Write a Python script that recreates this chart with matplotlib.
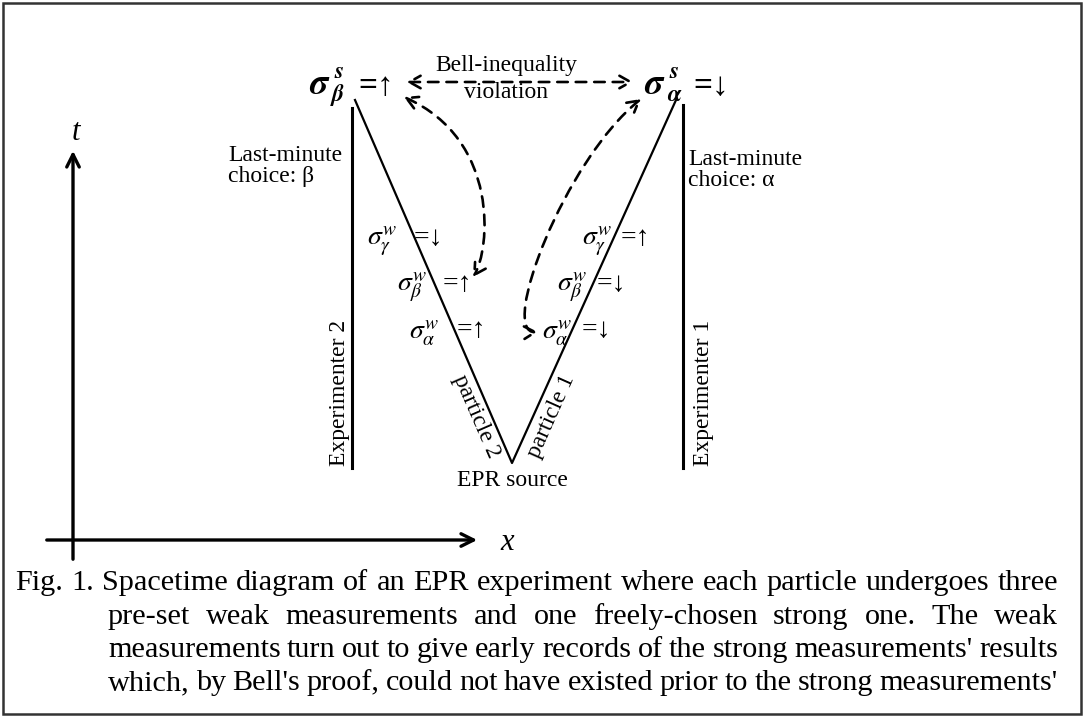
import numpy as np
import matplotlib.pyplot as plt
from matplotlib.patches import FancyArrowPatch, Rectangle
from matplotlib.path import Path

plt.rcParams['font.family'] = ['Liberation Serif', 'DejaVu Serif']
plt.rcParams['mathtext.fontset'] = 'stix'

# diagram content
strong_sub = ['β', 'α']
strong_val = ['=↑', '=↓']
weak_left = [r'$\sigma^w_\gamma$', r'$\sigma^w_\beta$', r'$\sigma^w_\alpha$']
weak_left_val = ['=↓', '=↑', '=↑']
weak_right = [r'$\sigma^w_\gamma$', r'$\sigma^w_\beta$', r'$\sigma^w_\alpha$']
weak_right_val = ['=↑', '=↓', '=↓']
choice_labels = ['Last-minute\nchoice: β', 'Last-minute\nchoice: α']
experimenters = ['Experimenter 2', 'Experimenter 1']
particles = ['particle 2', 'particle 1']
caption = [
    "Fig. 1. Spacetime diagram of an EPR experiment where each particle undergoes three",
    "pre-set weak measurements and one freely-chosen strong one. The weak",
    "measurements turn out to give early records of the strong measurements' results",
    "which, by Bell's proof, could not have existed prior to the strong measurements'",
]

W, H = 1084, 717
fig = plt.figure(figsize=(W / 100, H / 100), dpi=100)
ax = fig.add_axes([0, 0, 1, 1])
ax.set_xlim(0, W)
ax.set_ylim(H, 0)
ax.axis('off')

fs = 17

# frame
ax.add_patch(Rectangle((3, 3), W - 6, H - 6, fill=False, ec='#333333', lw=1.8))

# spacetime axes
ax.annotate('', xy=(73, 148), xytext=(73, 562),
            arrowprops=dict(arrowstyle='->,head_length=0.9,head_width=0.45', lw=2.4, color='black'))
ax.annotate('', xy=(480, 540), xytext=(44, 540),
            arrowprops=dict(arrowstyle='->,head_length=0.9,head_width=0.45', lw=2.4, color='black'))
ax.text(76, 133, 't', fontsize=22, style='italic', ha='center', va='center')
ax.text(507, 542, 'x', fontsize=22, style='italic', ha='center', va='center')

# experimenter worldlines
ax.plot([352, 352], [108, 468], color='black', lw=2.2)
ax.plot([683, 683], [105, 468], color='black', lw=2.2)
ax.text(340, 393, experimenters[0], rotation=90, fontsize=fs, ha='center', va='center')
ax.text(704, 393, experimenters[1], rotation=90, fontsize=fs, ha='center', va='center')

# particle worldlines
src = (512, 463)
ax.plot([355, src[0], 676], [100, src[1], 100], color='black', lw=1.6)
ax.text(476, 416, particles[0], rotation=-66.5, fontsize=fs, ha='center', va='center')
ax.text(551, 416, particles[1], rotation=66, fontsize=fs, ha='center', va='center')
ax.text(512, 481, 'EPR source', fontsize=fs, ha='center', va='center')

# last-minute choices
ax.text(228, 166, choice_labels[0], fontsize=fs, ha='left', va='center', linespacing=1.0)
ax.text(688, 170, choice_labels[1], fontsize=fs, ha='left', va='center', linespacing=1.0)

# strong measurement results (bold italic sigma)
bi = dict(family='STIXGeneral', weight='bold', style='italic', color='black')
for x0, sub, val in zip([309, 644], strong_sub, strong_val):
    ax.text(x0, 94, 'σ', fontsize=26, ha='left', va='baseline', **bi)
    ax.text(x0 + 25, 78, 's', fontsize=17, ha='left', va='baseline', **bi)
    ax.text(x0 + 23, 101, sub, fontsize=17, ha='left', va='baseline', **bi)
    ax.text(x0 + 49, 95, val, fontsize=24, ha='left', va='baseline', weight='bold')

# weak measurement results
for lab, val, (x, xv, y) in zip(weak_left, weak_left_val,
                                [(367, 414, 242), (397, 443, 288), (409, 457, 334)]):
    ax.text(x, y, lab, fontsize=20, ha='left', va='center')
    ax.text(xv, y - 3, val, fontsize=20, ha='left', va='center')
for lab, val, (x, xv, y) in zip(weak_right, weak_right_val,
                                [(582, 621, 242), (557, 597, 288), (542, 582, 334)]):
    ax.text(x, y, lab, fontsize=20, ha='left', va='center')
    ax.text(xv, y - 3, val, fontsize=20, ha='left', va='center')

# Bell-inequality violation arrows
ax.text(506, 66, 'Bell-inequality', fontsize=fs, ha='center', va='center')
ax.text(506, 92, 'violation', fontsize=fs, ha='center', va='center')
dash = dict(arrowstyle='<->,head_length=8,head_width=4.5', lw=1.9, color='black',
            linestyle=(0, (4, 3)), mutation_scale=1)
ax.add_patch(FancyArrowPatch((404, 82), (636, 82), **dash))
curve_codes = [Path.MOVETO, Path.CURVE4, Path.CURVE4, Path.CURVE4]
left_curve = Path([(404, 97), (500, 140), (490, 250), (473, 277)], curve_codes)
right_curve = Path([(641, 99), (565, 160), (498, 334), (538, 332)], curve_codes)
ax.add_patch(FancyArrowPatch(path=left_curve, **dash))
ax.add_patch(FancyArrowPatch(path=right_curve, **dash))

# justified caption
fig.canvas.draw()
renderer = fig.canvas.get_renderer()
inv = ax.transData.inverted()
cap_fs = 21.8
right_edge = 1058
starts = [15, 108, 108, 108]
ys = [583, 617, 650, 683]
for line, x0, y in zip(caption, starts, ys):
    words = line.split(' ')
    texts = [ax.text(0, y, w, fontsize=cap_fs, ha='left', va='center') for w in words]
    widths = []
    for t in texts:
        bb = t.get_window_extent(renderer)
        p0 = inv.transform((bb.x0, bb.y0))
        p1 = inv.transform((bb.x1, bb.y0))
        widths.append(p1[0] - p0[0])
    gap = (right_edge - x0 - sum(widths)) / (len(words) - 1)
    x = x0
    for t, w in zip(texts, widths):
        t.set_x(x)
        x += w + gap

fig.savefig('out.png', dpi=100, facecolor='white')
